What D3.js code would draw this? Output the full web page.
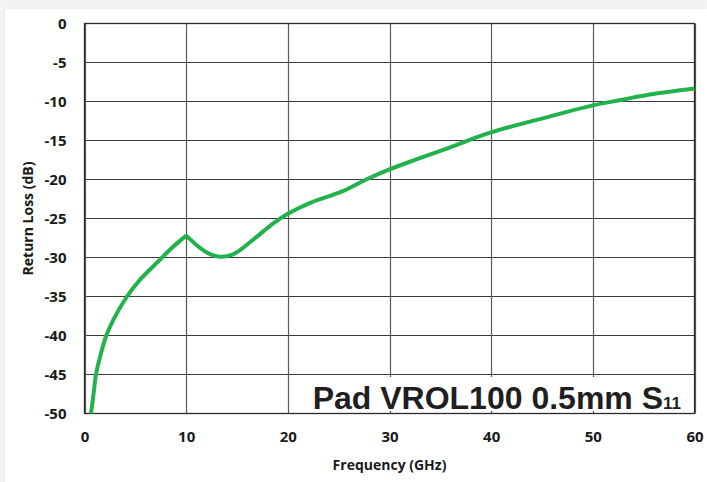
<!DOCTYPE html>
<html>
<head>
<meta charset="utf-8">
<script src="https://cdn.jsdelivr.net/npm/d3@7"></script>
<style>
  html, body { margin: 0; padding: 0; background: #f3f3f3; }
  #card { position: absolute; left: 5px; top: 9px; width: 702px; height: 473px; background: #fff; box-shadow: 0 0 3px rgba(0,0,0,0.06); }
  svg { position: absolute; left: 0; top: 0; }
</style>
</head>
<body>
<div id="card"></div>
<div id="chart"></div>
<script>
// S11 return loss
const freqGHz = [0.64, 0.9, 1.13, 1.56, 2.12, 2.87, 4.18, 5.49, 7.1, 8.4, 10,
  11.4, 12.4, 13.3, 14.6, 16.6, 18.6, 20, 22.2, 25.4, 27.7, 30, 32.7, 35.9,
  39.9, 45.8, 50, 53, 55.6, 60]
const returnLoss = [-50, -47.4, -45.0, -42.6, -40.1, -37.9, -35.0, -32.8, -30.7, -29.0, -27.2,
  -28.8, -29.6, -29.9, -29.6, -27.7, -25.6, -24.4, -23.0, -21.5, -20.0, -18.7, -17.4, -15.9,
  -14.0, -11.9, -10.5, -9.74, -9.1, -8.33]
const cuspFreq = 10

const xTicks = [0, 10, 20, 30, 40, 50, 60]
const yTicks = [0, -5, -10, -15, -20, -25, -30, -35, -40, -45, -50]

const width = 707
const height = 482

const svg = d3.select("#chart")
  .append("svg")
  .attr("width", width)
  .attr("height", height)

const x = d3.scaleLinear().domain([0, 60]).range([84.5, 694.5])
const y = d3.scaleLinear().domain([-50, 0]).range([413.5, 23.5])

const tickFont = "'Open Sans', 'DejaVu Sans', sans-serif"

// grid
svg.append("g")
  .selectAll("line")
  .data(yTicks)
  .join("line")
  .attr("x1", x(0)).attr("x2", x(60))
  .attr("y1", d => y(d)).attr("y2", d => y(d))
  .attr("stroke", "#3a3a3a")
  .attr("stroke-width", 1)

svg.append("g")
  .selectAll("line")
  .data(xTicks)
  .join("line")
  .attr("x1", d => Math.round(x(d)) + 0.5).attr("x2", d => Math.round(x(d)) + 0.5)
  .attr("y1", y(0)).attr("y2", y(-50))
  .attr("stroke", "#5a5a5a")
  .attr("stroke-width", 1.2)

// frame
svg.append("rect")
  .attr("x", x(0)).attr("y", y(0))
  .attr("width", x(60) - x(0)).attr("height", y(-50) - y(0))
  .attr("fill", "none")
  .attr("stroke", "#2a2a2a")
  .attr("stroke-width", 1.3)

// tick labels through d3 axes, axis lines hidden
const xAxis = svg.append("g")
  .attr("transform", `translate(0,${y(-50)})`)
  .call(d3.axisBottom(x).tickValues(xTicks).tickFormat(d => String(d)).tickSize(0).tickPadding(18))
xAxis.select(".domain").remove()

const yAxis = svg.append("g")
  .attr("transform", `translate(${x(0)},0)`)
  .call(d3.axisLeft(y).tickValues(yTicks).tickFormat(d => String(d)).tickSize(0).tickPadding(18))
yAxis.select(".domain").remove()

svg.selectAll(".tick text")
  .attr("font-family", tickFont)
  .attr("font-weight", "bold")
  .attr("font-size", "15px")
  .attr("fill", "#1a1a1a")

svg.append("text")
  .attr("x", (x(0) + x(60)) / 2)
  .attr("y", 470)
  .attr("text-anchor", "middle")
  .attr("font-family", tickFont)
  .attr("font-weight", "bold")
  .attr("font-size", "14px")
  .attr("fill", "#1a1a1a")
  .text("Frequency (GHz)")

svg.append("text")
  .attr("transform", `translate(33,${(y(0) + y(-50)) / 2}) rotate(-90)`)
  .attr("text-anchor", "middle")
  .attr("font-family", tickFont)
  .attr("font-weight", "bold")
  .attr("font-size", "14px")
  .attr("fill", "#1a1a1a")
  .text("Return Loss (dB)")

// curve, split at the 10 GHz cusp so the corner stays sharp
const points = freqGHz.map((f, i) => [f, returnLoss[i]])
const ci = freqGHz.indexOf(cuspFreq)
const line = d3.line()
  .x(d => x(d[0]))
  .y(d => y(d[1]))
  .curve(d3.curveCatmullRom.alpha(0.5))

svg.append("g")
  .selectAll("path")
  .data([points.slice(0, ci + 1), points.slice(ci)])
  .join("path")
  .attr("d", line)
  .attr("fill", "none")
  .attr("stroke", "#22b24c")
  .attr("stroke-width", 4)
  .attr("stroke-linejoin", "round")

// label box
svg.append("rect")
  .attr("x", 302).attr("y", 377)
  .attr("width", x(60) - 302 - 1).attr("height", 34)
  .attr("fill", "#fff")

const label = svg.append("text")
  .attr("x", 681)
  .attr("y", 409)
  .attr("text-anchor", "end")
  .attr("font-family", "'Liberation Sans', Arial, sans-serif")
  .attr("font-weight", "bold")
  .attr("font-size", "32px")
  .attr("fill", "#1f1f1f")
label.append("tspan").text("Pad VROL100 0.5mm S")
label.append("tspan").attr("font-size", "17px").text("11")
</script>
</body>
</html>
